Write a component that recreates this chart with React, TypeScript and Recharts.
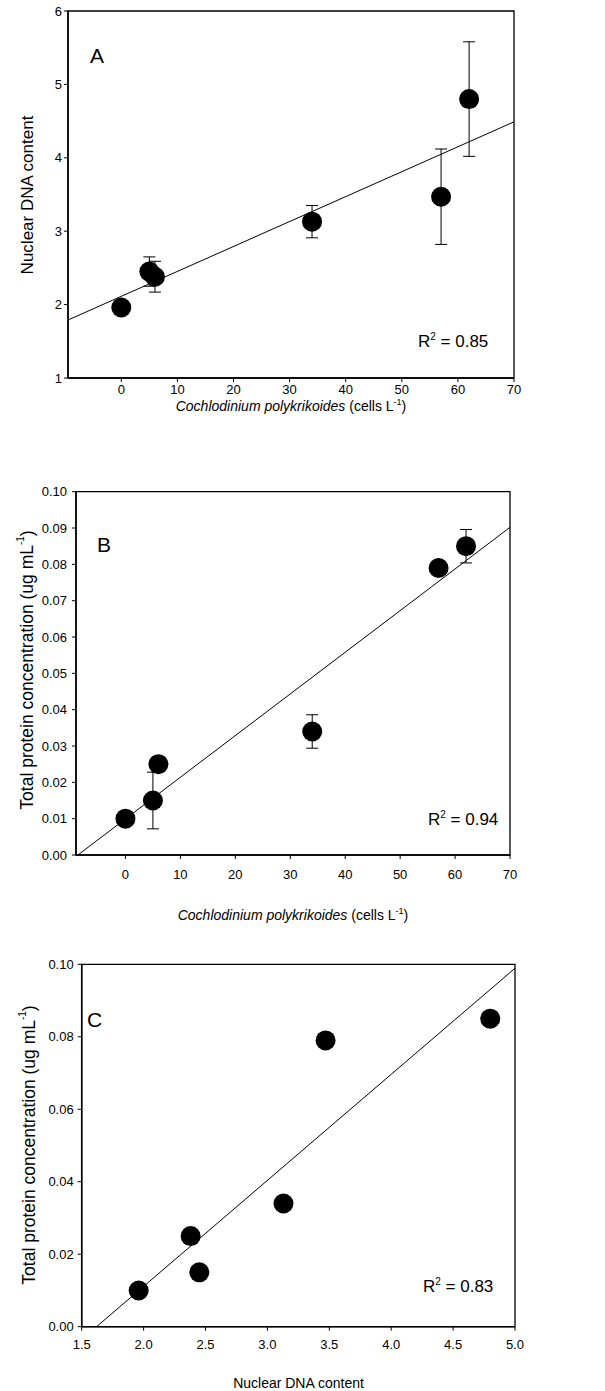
import React from 'react';
import {
  ScatterChart,
  Scatter,
  XAxis,
  YAxis,
  ErrorBar,
  ReferenceLine,
  ReferenceArea,
} from 'recharts';

// values
const cells = [0, 5, 6, 34, 57, 62];
const dna = [1.96, 2.45, 2.38, 3.13, 3.47, 4.8];
const dnaErr = [0, 0.2, 0.21, 0.22, 0.65, 0.78];
const protein = [0.01, 0.015, 0.025, 0.034, 0.079, 0.085];
const proteinErr = [0, 0.0078, 0.002, 0.0046, 0, 0.0046];

// regression line end points
const fitA = [{ x: -9.5, y: 1.79 }, { x: 70, y: 4.49 }];
const fitB = [{ x: -8.66, y: 0 }, { x: 70, y: 0.0902 }];
const fitC = [{ x: 1.62, y: 0 }, { x: 5, y: 0.0989 }];

const cellTicks = [0, 10, 20, 30, 40, 50, 60, 70];
const dnaTicksY = [1, 2, 3, 4, 5, 6];
const proteinTicksB = [0, 0.01, 0.02, 0.03, 0.04, 0.05, 0.06, 0.07, 0.08, 0.09, 0.1];
const proteinTicksC = [0, 0.02, 0.04, 0.06, 0.08, 0.1];
const dnaTicksX = [1.5, 2, 2.5, 3, 3.5, 4, 4.5, 5];

const dataA = cells.map((x, i) => ({ x, y: dna[i], err: dnaErr[i] }));
const dataB = cells.map((x, i) => ({ x, y: protein[i], err: proteinErr[i] }));
const dataC = dna.map((x, i) => ({ x, y: protein[i] }));

const FONT = '"Liberation Sans", Arial, sans-serif';
const tickStyle = { fontSize: 13, fill: '#000', fontFamily: FONT };

const Dot = (props: any) => <circle cx={props.cx} cy={props.cy} r={10} fill="#000" />;

interface PanelProps {
  top: number;
  height: number;
  margin: { top: number; right: number; left: number; bottom: number };
  yWidth: number;
  xHeight: number;
  xDomain: [number, number];
  yDomain: [number, number];
  xTicks: number[];
  yTicks: number[];
  xFmt: (v: number) => string;
  yFmt: (v: number) => string;
  xTickMargin: number;
  yTickMargin: number;
  data: { x: number; y: number; err?: number }[];
  fit: { x: number; y: number }[];
  errors?: boolean;
}

const Panel = (p: PanelProps) => (
  <div style={{ position: 'absolute', left: 0, top: p.top }}>
    <ScatterChart width={605} height={p.height} margin={p.margin}>
      <XAxis
        type="number"
        dataKey="x"
        domain={p.xDomain}
        ticks={p.xTicks}
        tickFormatter={p.xFmt}
        allowDataOverflow
        height={p.xHeight}
        tick={tickStyle}
        tickSize={4}
        tickMargin={p.xTickMargin}
        axisLine={{ stroke: '#000', strokeWidth: 1.5 }}
        tickLine={{ stroke: '#000' }}
      />
      <YAxis
        type="number"
        dataKey="y"
        domain={p.yDomain}
        ticks={p.yTicks}
        tickFormatter={p.yFmt}
        allowDataOverflow
        width={p.yWidth}
        tick={tickStyle}
        tickSize={4}
        tickMargin={p.yTickMargin}
        axisLine={{ stroke: '#000', strokeWidth: 1.5 }}
        tickLine={{ stroke: '#000' }}
      />
      <ReferenceArea
        x1={p.xDomain[0]}
        x2={p.xDomain[1]}
        y1={p.yDomain[0]}
        y2={p.yDomain[1]}
        fill="none"
        stroke="#000"
        strokeWidth={1.3}
      />
      <ReferenceLine
        segment={p.fit}
        stroke="#000"
        strokeWidth={1}
        ifOverflow="hidden"
      />
      <Scatter data={p.data} shape={Dot} isAnimationActive={false}>
        {p.errors && (
          <ErrorBar
            dataKey="err"
            direction="y"
            width={6}
            stroke="#000"
            strokeWidth={1}
            isAnimationActive={false}
          />
        )}
      </Scatter>
    </ScatterChart>
  </div>
);

const R2 = ({ x, y, v }: { x: number; y: number; v: string }) => (
  <text x={x} y={y} fontSize={17} fontFamily={FONT} fill="#000">
    R
    <tspan dy={-7} fontSize={10}>2</tspan>
    <tspan dy={7}>{` = ${v}`}</tspan>
  </text>
);

const CellsLabel = ({ x, y }: { x: number; y: number }) => (
  <text x={x} y={y} fontSize={14} fontFamily={FONT} fill="#000" textAnchor="middle">
    <tspan fontStyle="italic">Cochlodinium polykrikoides</tspan>
    <tspan> (cells L</tspan>
    <tspan dy={-6} fontSize={9}>-1</tspan>
    <tspan dy={6}>)</tspan>
  </text>
);

const ProteinLabel = ({ x, y }: { x: number; y: number }) => (
  <text
    x={x}
    y={y}
    fontSize={17.5}
    fontFamily={FONT}
    fill="#000"
    textAnchor="middle"
    dominantBaseline="central"
    transform={`rotate(-90 ${x} ${y})`}
  >
    Total protein concentration (ug mL
    <tspan dy={-7} fontSize={10}>-1</tspan>
    <tspan dy={7}>)</tspan>
  </text>
);

export default function App() {
  return (
    <div
      style={{
        position: 'absolute',
        left: 0,
        top: 0,
        width: 605,
        height: 1391,
        background: '#fff',
      }}
    >
      <Panel
        top={0}
        height={420}
        margin={{ top: 11, right: 91, left: 0, bottom: 0 }}
        yWidth={68}
        xHeight={42}
        xDomain={[-9.5, 70]}
        yDomain={[1, 6]}
        xTicks={cellTicks}
        yTicks={dnaTicksY}
        xFmt={v => String(v)}
        yFmt={v => String(v)}
        xTickMargin={3}
        yTickMargin={2}
        data={dataA}
        fit={fitA}
        errors
      />
      <Panel
        top={440}
        height={460}
        margin={{ top: 51.7, right: 95, left: 0, bottom: 0 }}
        yWidth={76}
        xHeight={45}
        xDomain={[-9, 70]}
        yDomain={[0, 0.1]}
        xTicks={cellTicks}
        yTicks={proteinTicksB}
        xFmt={v => String(v)}
        yFmt={v => v.toFixed(2)}
        xTickMargin={11}
        yTickMargin={5}
        data={dataB}
        fit={fitB}
        errors
      />
      <Panel
        top={930}
        height={440}
        margin={{ top: 34.3, right: 90, left: 0, bottom: 0 }}
        yWidth={81.7}
        xHeight={43.3}
        xDomain={[1.5, 5]}
        yDomain={[0, 0.1]}
        xTicks={dnaTicksX}
        yTicks={proteinTicksC}
        xFmt={v => v.toFixed(1)}
        yFmt={v => v.toFixed(2)}
        xTickMargin={9}
        yTickMargin={4}
        data={dataC}
        fit={fitC}
      />
      <svg
        width={605}
        height={1391}
        style={{ position: 'absolute', left: 0, top: 0, pointerEvents: 'none' }}
      >
        <text x={90} y={63} fontSize={21} fontFamily={FONT} fill="#000">A</text>
        <text x={97} y={552} fontSize={21} fontFamily={FONT} fill="#000">B</text>
        <text x={87} y={1027} fontSize={21} fontFamily={FONT} fill="#000">C</text>

        <R2 x={418} y={347} v="0.85" />
        <R2 x={428} y={825} v="0.94" />
        <R2 x={423} y={1292} v="0.83" />

        <text
          x={27}
          y={195}
          fontSize={17}
          fontFamily={FONT}
          fill="#000"
          textAnchor="middle"
          dominantBaseline="central"
          transform="rotate(-90 27 195)"
        >
          Nuclear DNA content
        </text>
        <ProteinLabel x={27} y={670} />
        <ProteinLabel x={29} y={1145} />

        <CellsLabel x={291} y={411} />
        <CellsLabel x={293} y={920} />
        <text x={298.5} y={1388} fontSize={14} fontFamily={FONT} fill="#000" textAnchor="middle">
          Nuclear DNA content
        </text>
      </svg>
    </div>
  );
}
